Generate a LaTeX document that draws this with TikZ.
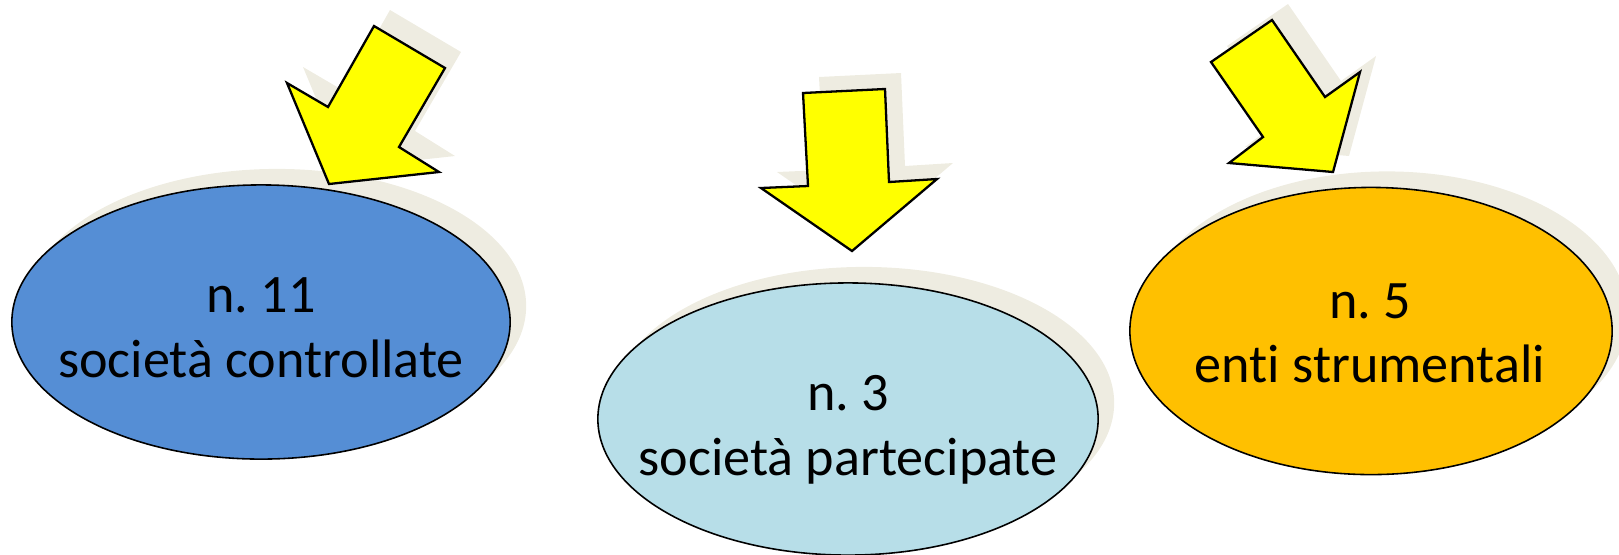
\documentclass[tikz,border=0pt]{standalone}
\usepackage{fontspec}
\setmainfont{Carlito}[Ligatures=NoCommon]
\usetikzlibrary{shapes.geometric,shadows}
\definecolor{ombracol}{HTML}{EEECE1}
\definecolor{blu}{HTML}{558ED5}
\definecolor{celeste}{HTML}{B7DEE8}
\definecolor{arancio}{HTML}{FFC000}
\definecolor{giallo}{HTML}{FFFF00}
\tikzset{
ovale/.style={ellipse,draw,line width=0.45pt,inner sep=0pt,
  general shadow={fill=ombracol,shadow xshift=0.16cm,shadow yshift=0.16cm}},
scritta/.style={anchor=base,inner sep=0pt,font=\fontsize{15.4}{18}\selectfont\frenchspacing},
ombra/.style={fill=ombracol,shift={(16,-16)}},
blocco/.style={fill=giallo,draw,line width=0.65pt,line join=miter}}

\begin{document}
\begin{tikzpicture}[x=0.01cm,y=-0.01cm]
\useasboundingbox (0,0) rectangle (1619,554);

\node[ovale,fill=blu,minimum width=4.98cm,minimum height=2.74cm] (contr) at (261,322) {};
\node[ovale,fill=celeste,minimum width=5.00cm,minimum height=2.72cm] (part) at (848,419) {};
\node[ovale,fill=arancio,minimum width=4.82cm,minimum height=2.87cm] (enti) at (1371,331) {};

\node[scritta] (n1) at (261,312) {n. 11};
\node[scritta] (t1) at (261,377) {società controllate};
\node[scritta] (n2) at (848,410) {n. 3};
\node[scritta] (t2) at (848,475) {società partecipate};
\node[scritta] (n3) at (1370,318) {n. 5};
\node[scritta] (t3) at (1370,382) {enti strumentali};

\fill[ombra] (374,26) -- (445,68) -- (399,147) -- (439,172) -- (329,184) -- (287,83) -- (328,107) -- cycle;
\fill[ombra] (803,93) -- (885,89) -- (889,182) -- (937,179) -- (852,251) -- (761,188) -- (808,186) -- cycle;
\fill[ombra] (1272,20) -- (1325,97) -- (1360,72) -- (1333,172) -- (1229,163) -- (1263,137) -- (1211,62) -- cycle;

\draw[blocco] (374,26) -- (445,68) -- (399,147) -- (439,172) -- (329,184) -- (287,83) -- (328,107) -- cycle;
\draw[blocco] (803,93) -- (885,89) -- (889,182) -- (937,179) -- (852,251) -- (761,188) -- (808,186) -- cycle;
\draw[blocco] (1272,20) -- (1325,97) -- (1360,72) -- (1333,172) -- (1229,163) -- (1263,137) -- (1211,62) -- cycle;

\end{tikzpicture}
\end{document}
